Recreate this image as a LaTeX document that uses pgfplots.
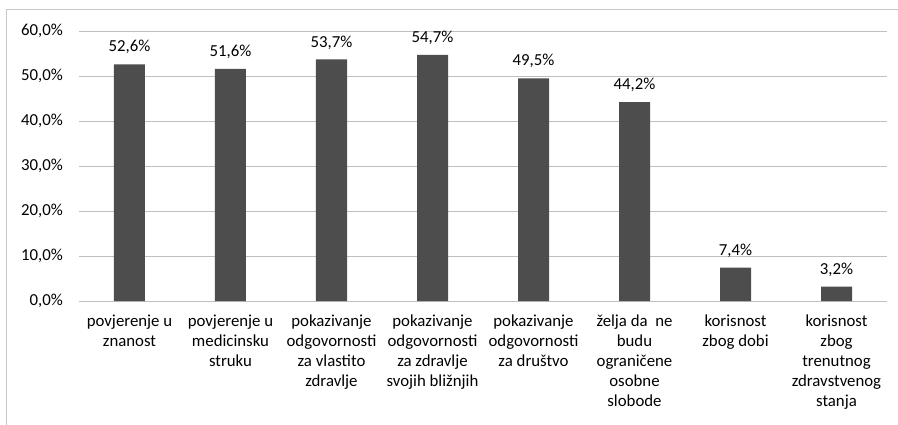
\documentclass[border=0pt]{standalone}
\usepackage{fontspec}
\setmainfont{Carlito}
\usepackage{pgfplots}
\pgfplotsset{compat=1.18}
\definecolor{barc}{RGB}{77,77,77}
\definecolor{gridc}{RGB}{191,191,191}
\definecolor{framec}{RGB}{200,200,200}
\newcommand{\lblfont}{\fontsize{16.8bp}{20bp}\selectfont}
\begin{document}
\lblfont
\begin{tikzpicture}
\useasboundingbox (-79bp,-124bp) rectangle (819bp,301bp);
\draw[framec, line width=1bp] (-72bp,-124bp) -- (-72bp,291bp) -- (819bp,291bp);
\begin{axis}[
  at={(0,0)}, anchor=south west,
  scale only axis, width=808bp, height=270bp,
  xmin=-0.5, xmax=7.5, ymin=0, ymax=60,
  axis line style={draw=none},
  ymajorgrids, grid style={gridc, line width=1bp},
  ytick={0,10,20,30,40,50,60},
  yticklabels={{0,0\%},{10,0\%},{20,0\%},{30,0\%},{40,0\%},{50,0\%},{60,0\%}},
  yticklabel style={inner sep=0pt, anchor=east, xshift=-16bp, font=\lblfont},
  xtick={0,1,2,3,4,5,6,7},
  xticklabels={
    {povjerenje u\\znanost},
    {povjerenje u\\medicinsku\\struku},
    {pokazivanje\\odgovornosti\\za vlastito\\zdravlje},
    {pokazivanje\\odgovornosti\\za zdravlje\\svojih bližnjih},
    {pokazivanje\\odgovornosti\\za društvo},
    {želja da \ ne\\budu\\ograničene\\osobne\\slobode},
    {korisnost\\zbog dobi},
    {korisnost\\zbog\\trenutnog\\zdravstvenog\\stanja}},
  xticklabel style={inner sep=0pt, anchor=north, align=center, yshift=-14bp, font=\lblfont},
  major tick length=0pt,
  tick style={draw=none},
  /pgf/number format/assume math mode=true,
  nodes near coords={\pgfmathprintnumber[fixed,fixed zerofill,precision=1,use comma]{\pgfplotspointmeta}\%},
  nodes near coords style={font=\lblfont, inner sep=0pt, yshift=10bp, anchor=south},
]
\addplot[ybar, bar width=31bp, fill=barc, draw=none] coordinates {
  (0,52.6) (1,51.6) (2,53.7) (3,54.7) (4,49.5) (5,44.2) (6,7.4) (7,3.2)
};
\end{axis}
\end{tikzpicture}
\end{document}
